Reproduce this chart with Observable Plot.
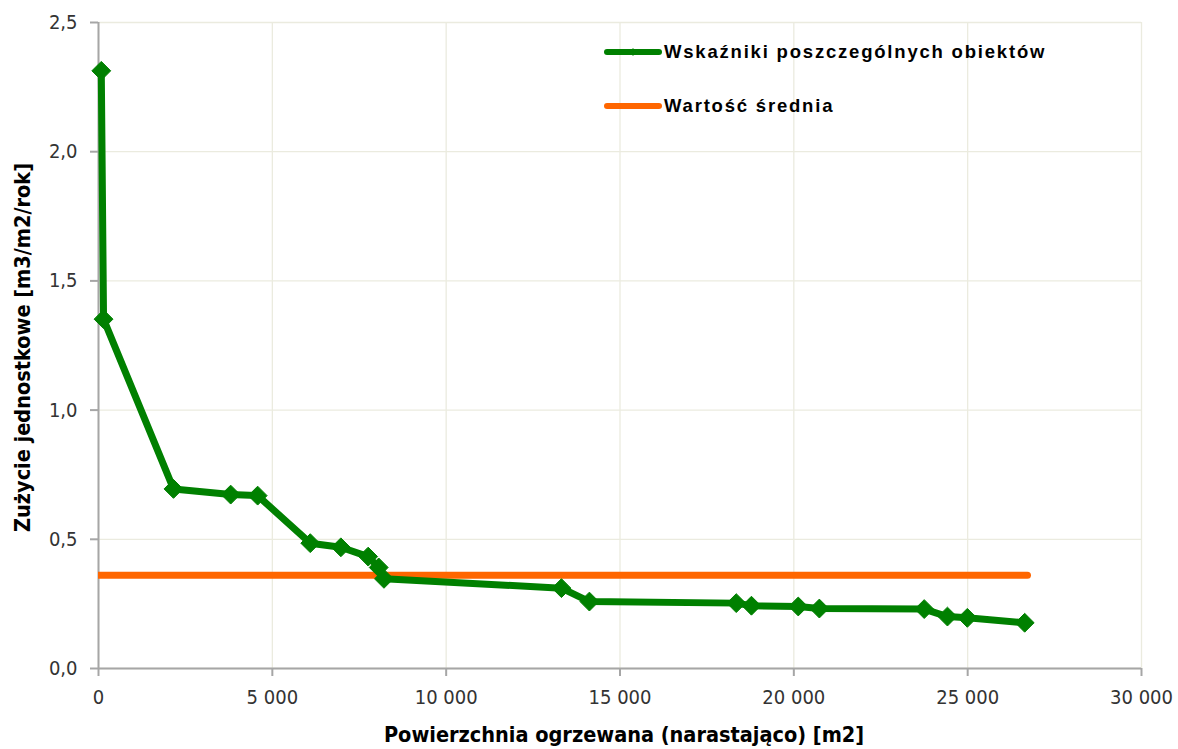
<!DOCTYPE html>
<html>
<head>
<meta charset="utf-8">
<script src="https://cdn.jsdelivr.net/npm/d3@7"></script>
<script src="https://cdn.jsdelivr.net/npm/@observablehq/plot@0.6"></script>
<style>
  html, body { margin: 0; padding: 0; background: #fff; }
  #wrap { position: relative; width: 1178px; height: 749px; }
  .legend { position: absolute; left: 604px; font-family: "Liberation Sans", Arial, sans-serif; font-weight: bold; font-size: 18.5px; letter-spacing: 1.8px; color: #000; display: flex; align-items: center; }
  .legend svg { margin-right: 2px; }
</style>
</head>
<body>
<div id="wrap"></div>
<script>
// Data
const areaCumulative = [80, 145, 2157, 3802, 4578, 6091, 6971, 7757, 8060, 8211, 13316, 14120, 18344, 18781, 20127, 20734, 23750, 24418, 24990, 26640];
const unitConsumption = [2.313, 1.352, 0.695, 0.673, 0.669, 0.485, 0.469, 0.433, 0.391, 0.347, 0.311, 0.259, 0.253, 0.243, 0.240, 0.232, 0.230, 0.201, 0.196, 0.177];
const meanX = [0, 26720];
const meanY = [0.361, 0.361];
const xTicks = [0, 5000, 10000, 15000, 20000, 25000, 30000];
const yTicks = [0, 0.5, 1.0, 1.5, 2.0, 2.5];
const seriesNames = ["Wskaźniki poszczególnych obiektów", "Wartość średnia"];
const xTitle = "Powierzchnia ogrzewana (narastająco) [m2]";
const yTitle = "Zużycie jednostkowe [m3/m2/rok]";

const green = "#008000";
const orange = "#ff6600";

const points = areaCumulative.map((x, i) => ({x, y: unitConsumption[i]}));
const mean = meanX.map((x, i) => ({x, y: meanY[i]}));

const pl = d3.formatLocale({decimal: ",", thousands: "\u00a0", grouping: [3], currency: ["", " zł"]});
const fx = pl.format(",d");
const fy = pl.format(".1f");

const tickFont = "'DejaVu Sans Condensed', 'DejaVu Sans', sans-serif";

const chart = Plot.plot({
  width: 1178,
  height: 749,
  marginLeft: 98,
  marginRight: 37,
  marginTop: 22,
  marginBottom: 81,
  style: {fontFamily: tickFont, fontSize: "20px", color: "#333", background: "#fff"},
  x: {domain: [0, 30000]},
  y: {domain: [0, 2.5]},
  marks: [
    Plot.gridX(xTicks, {stroke: "#ebebdf", strokeOpacity: 1, strokeWidth: 1.3}),
    Plot.gridY(yTicks, {stroke: "#ebebdf", strokeOpacity: 1, strokeWidth: 1.3}),
    Plot.ruleX([0], {stroke: "#a6a6a6", strokeWidth: 2}),
    Plot.ruleY([0], {stroke: "#a6a6a6", strokeWidth: 2}),
    Plot.axisX(xTicks, {tickFormat: fx, tickSize: 8, tickPadding: 13, stroke: "#a6a6a6", strokeWidth: 2, label: null, fill: "#333", fontSize: 20}),
    Plot.axisY(yTicks, {tickFormat: fy, tickSize: 8, tickPadding: 13, stroke: "#a6a6a6", strokeWidth: 2, label: null, fill: "#333", fontSize: 20}),
    Plot.line(mean, {x: "x", y: "y", stroke: orange, strokeWidth: 7, strokeLinecap: "round", clip: true}),
    Plot.line(points, {x: "x", y: "y", stroke: green, strokeWidth: 7, strokeLinejoin: "round"}),
    Plot.dot(points, {x: "x", y: "y", symbol: "diamond2", r: 8.5, fill: green, stroke: green, strokeWidth: 1}),
    Plot.text([xTitle], {frameAnchor: "bottom", dy: 67, dx: 4, textAnchor: "middle", lineAnchor: "middle", fontWeight: "bold", fontSize: 21.5, fill: "#000", fontFamily: tickFont}),
    Plot.text([yTitle], {frameAnchor: "left", dx: -75, dy: 2, textAnchor: "middle", lineAnchor: "middle", rotate: -90, fontWeight: "bold", fontSize: 21.5, fill: "#000", fontFamily: tickFont})
  ]
});

const wrap = document.getElementById("wrap");
wrap.appendChild(chart);

function legendItem(name, color, withMarker, top) {
  const div = document.createElement("div");
  div.className = "legend";
  div.style.top = top + "px";
  const ns = "http://www.w3.org/2000/svg";
  const s = document.createElementNS(ns, "svg");
  s.setAttribute("width", 58); s.setAttribute("height", 14);
  const l = document.createElementNS(ns, "line");
  l.setAttribute("x1", 3); l.setAttribute("x2", 55); l.setAttribute("y1", 7); l.setAttribute("y2", 7);
  l.setAttribute("stroke", color); l.setAttribute("stroke-width", 6); l.setAttribute("stroke-linecap", "round");
  s.appendChild(l);
  if (withMarker) {
    const p = document.createElementNS(ns, "path");
    p.setAttribute("d", "M29,3 L32,7 L29,11 L26,7 Z");
    p.setAttribute("fill", color);
    s.appendChild(p);
  }
  div.appendChild(s);
  const t = document.createElement("span");
  t.textContent = name;
  div.appendChild(t);
  wrap.appendChild(div);
}
legendItem(seriesNames[0], green, true, 41);
legendItem(seriesNames[1], orange, false, 95);
</script>
</body>
</html>
